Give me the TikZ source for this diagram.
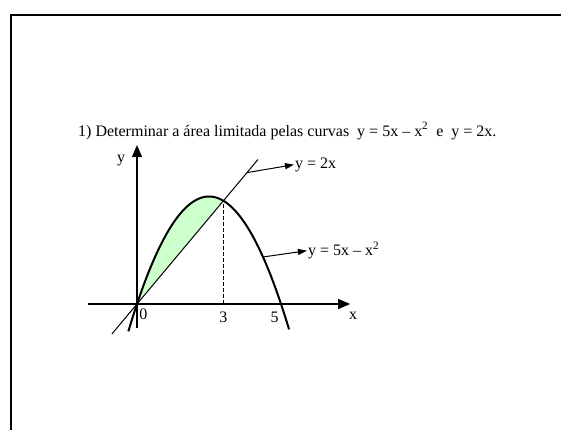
\documentclass[tikz,border=0pt]{standalone}
\usepackage{fontspec}
\setmainfont{Liberation Serif}
\usetikzlibrary{arrows.meta}
\definecolor{areagreen}{HTML}{CCFFCC}

\begin{document}
\begin{tikzpicture}[
x=1pt,y=1pt,
txt/.style={font=\fontsize{16}{18}\selectfont,inner sep=1pt},
axis/.style={-{Triangle[length=12pt,width=10pt]},line width=1.5pt},
curve/.style={line width=2pt},
ptr/.style={-{Triangle[length=9pt,width=6pt]},line width=1pt}
]
\useasboundingbox (0,0) rectangle (561,429);
\draw[line width=2pt] (11,-10) -- (11,414) -- (580,414);
\node[txt,anchor=base west] (title) at (77,293) {1) Determinar a área limitada pelas curvas\ \ y = 5x – x\textsuperscript{2}\ \ e\ \ y = 2x.};
\begin{scope}[shift={(137,125)},x=28.8pt,y=17.2pt]
% area between the curves
\fill[areagreen] plot[domain=0:3,samples=40,smooth] (\x,{5*\x-\x*\x}) -- cycle;
% axes
\draw[axis] (-1.7,0) -- (7.4,0);
\draw[axis] (0,-1.4) -- (0,9.24);
\node[txt] (xl) at (7.5,-0.7) {x};
\node[txt] (yl) at (-0.55,8.35) {y};
\node[txt] (t0) at (0.22,-0.6) {0};
\node[txt] (t3) at (3.0,-0.75) {3};
\node[txt] (t5) at (4.78,-0.75) {5};
% curves
\draw[line width=1pt] (-0.87,-1.74) -- coordinate[pos=0.925] (pl) (4.2,8.4);
\draw[curve] plot[domain=-0.3:5.28,samples=80,smooth] (\x,{5*\x-\x*\x});
\draw[dashed,dash pattern=on 4pt off 2pt,line width=1pt] (3,0) -- (3,6);
\coordinate (pp) at (4.375,2.734);
% labels
\node[txt,anchor=west] (l2x) at (5.45,8.1) {y = 2x};
\node[txt,anchor=west] (lpar) at (5.9,3.1) {y = 5x – x\textsuperscript{2}};
\draw[ptr] (pl) -- (l2x.west);
\draw[ptr] (pp) -- (lpar.west);
\end{scope}
\end{tikzpicture}
\end{document}
